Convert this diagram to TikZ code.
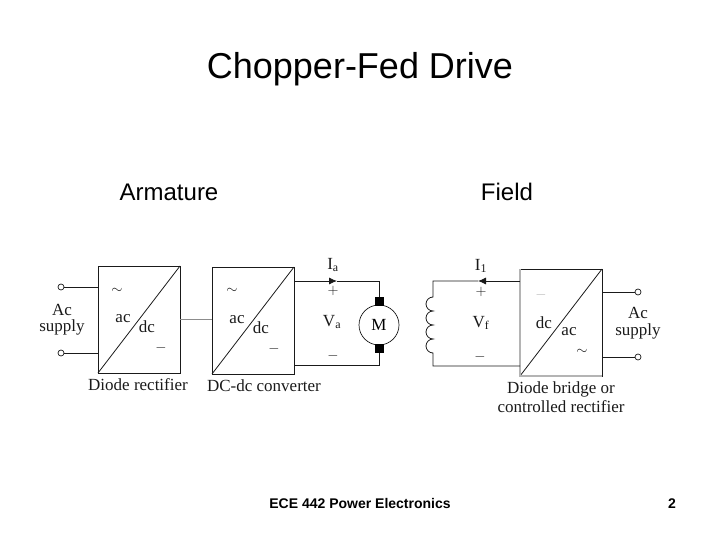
\documentclass[tikz,border=0pt]{standalone}
\usepackage{fontspec}
\setmainfont{Liberation Sans}
\newfontfamily\scanfont{Liberation Serif}
\usepackage{xcolor}
\usetikzlibrary{arrows.meta,positioning}
\definecolor{ink}{HTML}{1A1A1A}
\definecolor{faded}{HTML}{8C8C8C}
\definecolor{pale}{HTML}{B4B4B4}
\tikzset{
  wire/.style={ink,line width=0.8pt},
  heavywire/.style={ink,line width=1pt},
  palewire/.style={faded,line width=0.9pt},
  tipwire/.style={wire,-{Latex[length=8pt,width=7pt]}},
  convbox/.style={draw=ink,line width=0.9pt,minimum width=82pt,minimum height=107pt,inner sep=0pt,outer sep=0pt},
  terminal/.style={draw=ink,fill=white,circle,line width=0.7pt,minimum size=6pt,inner sep=0pt,outer sep=0pt},
  brush/.style={fill=black,minimum size=9pt,inner sep=0pt,outer sep=0pt},
  scan/.style={ink,font=\scanfont\fontsize{17}{19}\selectfont,inner sep=0pt},
  signmark/.style={ink,font=\fontsize{14}{16}\selectfont,inner sep=0pt},
  slide/.style={black,font=\bfseries\fontsize{14}{17}\selectfont,inner sep=0pt},
  heading/.style={black,font=\fontsize{24}{28}\selectfont,inner sep=0pt}
}
\begin{document}
\begin{tikzpicture}[x=1pt,y=-1pt]
  \useasboundingbox (0,0) rectangle (720,540);
  % slide text
  \node[black,font=\fontsize{36}{40}\selectfont,inner sep=0pt] (title) at (360,69) {Chopper-Fed Drive};
  \node[heading] (armature) at (169,192) {Armature};
  \node[heading] (field) at (507,192) {Field};
  \node[slide] (footer) at (360,503) {ECE 442 Power Electronics};
  \node[slide] (page) at (672,504) {2};
  % converters
  \node[convbox] (rect) at (139,319.5) {};
  \node[convbox] (chop) at (253,320.5) {};
  \node[convbox] (bridge) at (561,322.5) {};
  \foreach \b in {rect,chop,bridge}{
     \draw[wire] (\b.south west)--(\b.north east);
  }
  \draw[pale,line width=1.1pt] (bridge.north west)--(bridge.south west)--(bridge.south east);
  % terminals
  \node[terminal] (acA) at (61,287) {};
  \node[terminal] (acB) at (61,353) {};
  \node[terminal] (acC) at (638,292) {};
  \node[terminal] (acD) at (638,357) {};
  \draw[wire] (acA)--(acA-|rect.west);
  \draw[wire] (acB)--(acB-|rect.west);
  \draw[wire] (acC)--(acC-|bridge.east);
  \draw[wire] (acD)--(acD-|bridge.east);
  \draw[palewire] (rect.east)--(rect.east-|chop.west);
  % motor loop
  \node[circle,draw=ink,line width=0.7pt,minimum size=40pt,inner sep=0pt,font=\scanfont\fontsize{17}{19}\selectfont] (motor) at (379,325) {M};
  \node[brush] (brushT) at (379,301) {};
  \node[brush] (brushB) at (379,348) {};
  \coordinate (cornerT) at (379,281);
  \coordinate (cornerB) at (379,365);
  \coordinate (tipA) at (337,281);
  \draw[heavywire] (tipA)--(cornerT)--(brushT.north);
  \draw[tipwire] (chop.east|-tipA)--(tipA);
  \draw[wire] (chop.east|-cornerB)--(cornerB)--(brushB.south);
  % field loop
  \coordinate (coilT) at (433,297);
  \coordinate (coilB) at (433,353);
  \coordinate (fieldT) at (433,281);
  \coordinate (fieldB) at (433,366);
  \coordinate (tipF) at (478,281);
  \draw[wire] (tipF)--(fieldT)--(coilT) arc[start angle=90,end angle=270,radius=7pt]
     arc[start angle=90,end angle=270,radius=7pt]
     arc[start angle=90,end angle=270,radius=7pt]
     arc[start angle=90,end angle=270,radius=7pt]--(fieldB)--(bridge.west|-fieldB);
  \draw[tipwire] (bridge.west|-tipF)--(tipF);
  % scanned labels
  \foreach \p/\n/\t in {123/319/ac,147/327/dc,237/320/ac,261/328/dc,544/323/dc,569/332/ac,
     62/310/Ac,62/327/supply,638/313/Ac,638/331/supply}{
     \node[scan] (lbl\p) at (\p,\n) {\t};
  }
  \foreach \p/\n/\t in {117/291/$\sim$,232/291/$\sim$,582/352/$\sim$,161/348/$-$,274/349/$-$,
     333/291/$+$,333/356/$-$,481/292/$+$,480/357/$-$}{
     \node[signmark] (sgn\p) at (\p,\n) {\t};
  }
  \node[signmark,pale] (sgnfaint) at (541,295) {$-$};
  \node[scan] (ia) at (333,265) {I\textsubscript{a}};
  \node[scan] (va) at (332,322) {V\textsubscript{a}};
  \node[scan] (if) at (481,266) {I\textsubscript{1}};
  \node[scan] (vf) at (481,323) {V\textsubscript{f}};
  \node[scan] (capA) at (138,385) {Diode rectifier};
  \node[scan] (capB) at (264,386) {DC-dc converter};
  \node[scan] (capC) at (561,389) {Diode bridge or};
  \node[scan] (capD) at (561,407) {controlled rectifier};
\end{tikzpicture}
\end{document}
